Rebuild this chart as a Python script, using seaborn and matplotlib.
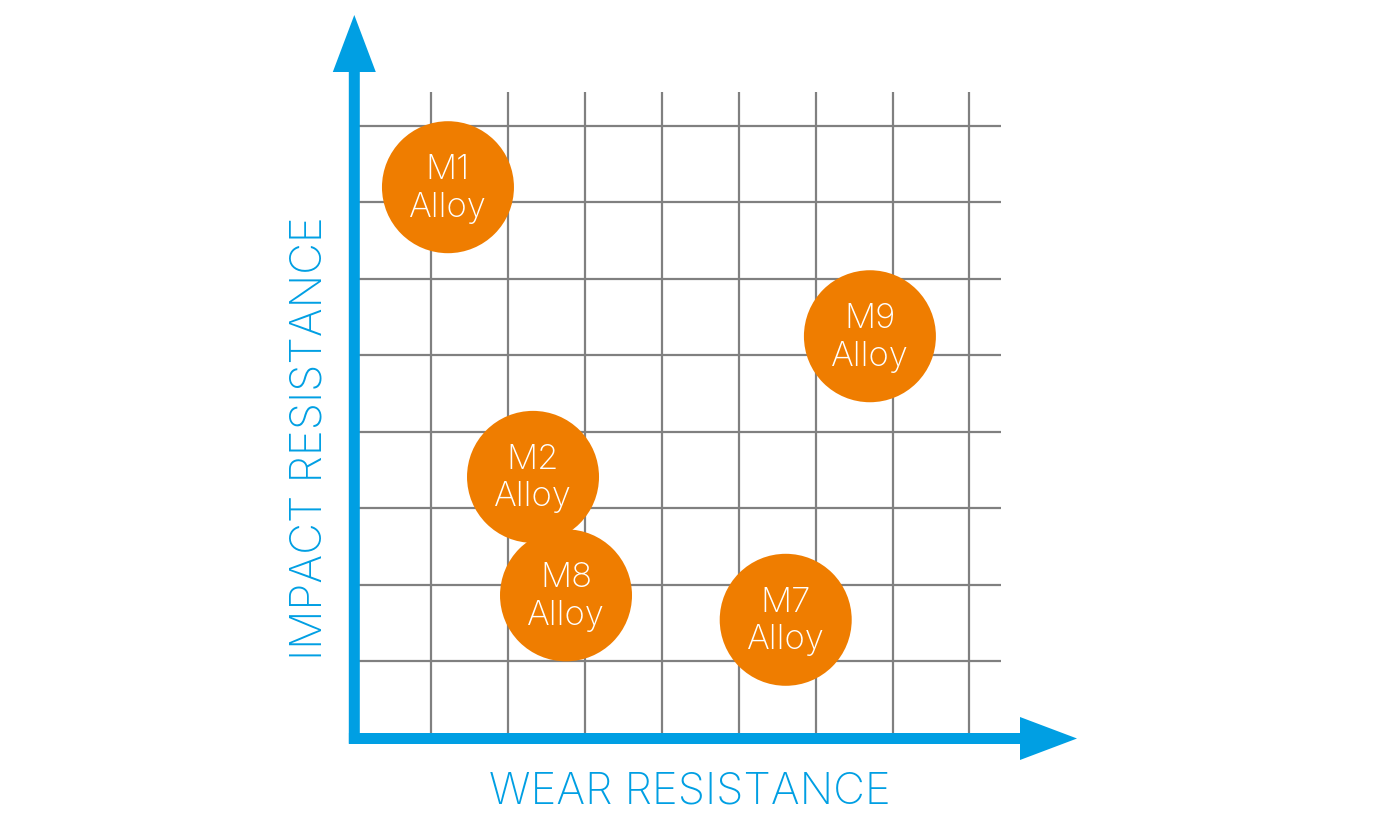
import matplotlib
matplotlib.use("Agg")
import matplotlib.pyplot as plt
import seaborn as sns
import pandas as pd

# Data
alloys = ["M1", "M9", "M2", "M8", "M7"]
wear = [1.218, 6.705, 2.324, 2.753, 5.610]
impact = [7.20, 5.25, 3.41, 1.86, 1.54]
grid_ticks = [1, 2, 3, 4, 5, 6, 7, 8]
x_label = "WEAR RESISTANCE"
y_label = "IMPACT RESISTANCE"

BLUE = "#009FE3"
ORANGE = "#EF7D00"
GRAY = "#808080"

sns.set_theme(style="white")
plt.rcParams['font.family'] = ['Inter', 'DejaVu Sans']

W, H = 1384, 830
fig = plt.figure(figsize=(W / 100, H / 100), dpi=100)
ax = fig.add_axes([0, 0, 1, 1])

ox, oy = 354.3, 737.5
sx, sy = 76.9, 76.43
ax.set_xlim(-ox / sx, (W - ox) / sx)
ax.set_ylim(-(H - oy) / sy, oy / sy)
ax.axis("off")

# grid
top = (oy - 92) / sy
right = (1001 - ox) / sx
ax.vlines(grid_ticks, 0, top, color=GRAY, lw=1.6, zorder=1)
ax.hlines(grid_ticks, 0, right, color=GRAY, lw=1.6, zorder=1)

# axes arrows
lw_d = 11 / sy
ay = -1.0 / sy
ax.arrow(-0.07, ay, (1077 - ox) / sx + 0.07, 0, width=lw_d, head_width=43 / sy,
         head_length=57 / sx, length_includes_head=True, color=BLUE, lw=0, zorder=3)
ax.arrow(0, -0.08, 0, (oy - 15) / sy + 0.08, width=11 / sx, head_width=43 / sx,
         head_length=57 / sy, length_includes_head=True, color=BLUE, lw=0, zorder=3)

# bubbles
df = pd.DataFrame({"alloy": alloys, "wear": wear, "impact": impact})
r_pt = 66 * 72 / 100
sns.scatterplot(data=df, x="wear", y="impact", s=(2 * r_pt) ** 2, color=ORANGE,
                edgecolor="none", linewidth=0, ax=ax, zorder=4, legend=False)
for a, x, y in zip(alloys, wear, impact):
    ax.text(x, y + 8 / sy, a, ha="center", va="baseline", color="white",
            fontsize=25, fontweight="light", zorder=5)
    ax.text(x, y - 29.5 / sy, "Alloy", ha="center", va="baseline", color="white",
            fontsize=25, fontweight="light", zorder=5)

ax.text((689.5 - ox) / sx, (oy - 803) / sy, x_label, ha="center", va="baseline",
        color=BLUE, fontsize=31.5, fontweight="light")
ax.text((322 - ox) / sx, (oy - 438.5) / sy, y_label, ha="center", va="baseline",
        color=BLUE, fontsize=31.5, fontweight="light", rotation=90,
        rotation_mode="anchor")

ax.set_xlabel("")
ax.set_ylabel("")
fig.savefig("out.png", dpi=100)
